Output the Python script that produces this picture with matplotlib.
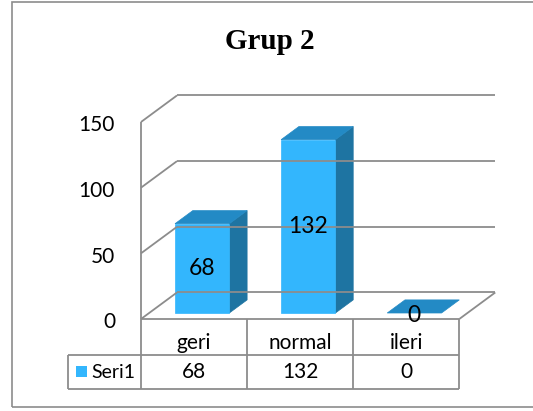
import matplotlib
matplotlib.use("Agg")
import matplotlib.pyplot as plt
from matplotlib.patches import Polygon, Rectangle

# data
categories = ["geri", "normal", "ileri"]
values = [68, 132, 0]
series_name = "Seri1"
title = "Grup 2"
y_ticks = [0, 50, 100, 150]

# look
FRONT = "#33b6fd"
TOP = "#238ac5"
SIDE = "#1e74a2"
GRID = "#8c8c8c"
FONT = "Lato"

# depth of the 3d box, in category / value units
DX = 0.339
DZ = 20.2
BAR_HALF = 0.256
BAR_Z0, BAR_Z1 = 0.226, 0.72


def P(x, v, z):
    """Project a point (x, value, depth) onto the front plane."""
    return (x + z * DX, v + z * DZ)


def line(ax, p0, p1, **kw):
    ax.plot([p0[0], p1[0]], [p0[1], p1[1]], color=GRID, lw=1.3,
            clip_on=False, solid_capstyle="butt", **kw)


def poly(ax, pts, color):
    ax.add_patch(Polygon(pts, closed=True, facecolor=color, edgecolor=color,
                         lw=0.5, clip_on=False))


fig = plt.figure(figsize=(5.33, 4.11), dpi=100)
ax = fig.add_axes([141 / 533, 92 / 411, 318.3 / 533, 197 / 411])
ax.set_xlim(-0.5, len(categories) - 0.5)
ax.set_ylim(0, 150)
ax.axis("off")

x_lo, x_hi = -0.5, len(categories) - 0.5

# walls and floor
for v in y_ticks:
    line(ax, P(x_lo, v, 1), P(x_hi, v, 1))
    line(ax, P(x_lo, v, 0), P(x_lo, v, 1))
line(ax, P(x_lo, 0, 0), P(x_lo, max(y_ticks), 0))
line(ax, P(x_lo, 0, 0), P(x_hi, 0, 0))
line(ax, P(x_hi, 0, 0), P(x_hi, 0, 1))

# bars
for i, val in enumerate(values):
    l, r = i - BAR_HALF, i + BAR_HALF
    top = [P(l, val, BAR_Z0), P(r, val, BAR_Z0), P(r, val, BAR_Z1), P(l, val, BAR_Z1)]
    if val > 0:
        side = [P(r, 0, BAR_Z0), P(r, val, BAR_Z0), P(r, val, BAR_Z1), P(r, 0, BAR_Z1)]
        front = [P(l, 0, BAR_Z0), P(r, 0, BAR_Z0), P(r, val, BAR_Z0), P(l, val, BAR_Z0)]
        poly(ax, side, SIDE)
        poly(ax, front, FRONT)
    poly(ax, top, TOP)
    lx, ly = P(i, val / 2, BAR_Z0)
    ax.text(lx, ly - (2 if val == 0 else 0), str(val), ha="center", va="center",
            fontsize=16.5, family=FONT, color="black", clip_on=False)

# y tick labels
for v in y_ticks:
    ax.text(-0.745, v - 2.5, str(v), ha="right", va="center", fontsize=15,
            family=FONT, clip_on=False)

# data table
row1, row2 = -27.4, -53.5
left = -1.185
for xb in [x_lo + k for k in range(len(categories) + 1)]:
    line(ax, (xb, 0), (xb, row2))
line(ax, (left, row1), (left, row2))
line(ax, (left, row1), (x_hi, row1))
line(ax, (left, row2), (x_hi, row2))
for i, (cat, val) in enumerate(zip(categories, values)):
    ax.text(i, -22.8, cat, ha="center", va="baseline", fontsize=15,
            family=FONT, clip_on=False)
    ax.text(i, -40.4, str(val), ha="center", va="center", fontsize=15,
            family=FONT, clip_on=False)
ax.add_patch(Rectangle((-1.113, -44.2), 0.104, 8.4, facecolor=FRONT,
                       edgecolor="none", clip_on=False))
ax.text(-0.965, -40.4, series_name, ha="left", va="center", fontsize=14,
        family=FONT, clip_on=False)

# title and chart border
fig.text(270 / 533, 1 - 49 / 411, title, ha="center", va="baseline",
         fontsize=21, fontweight="bold", family="Liberation Serif")
fig.patches.append(Rectangle((11.7 / 533, 4 / 411), 1.0, 405 / 411,
                             transform=fig.transFigure, fill=False,
                             edgecolor=GRID, lw=1.2))

fig.savefig("out.png", dpi=100)
